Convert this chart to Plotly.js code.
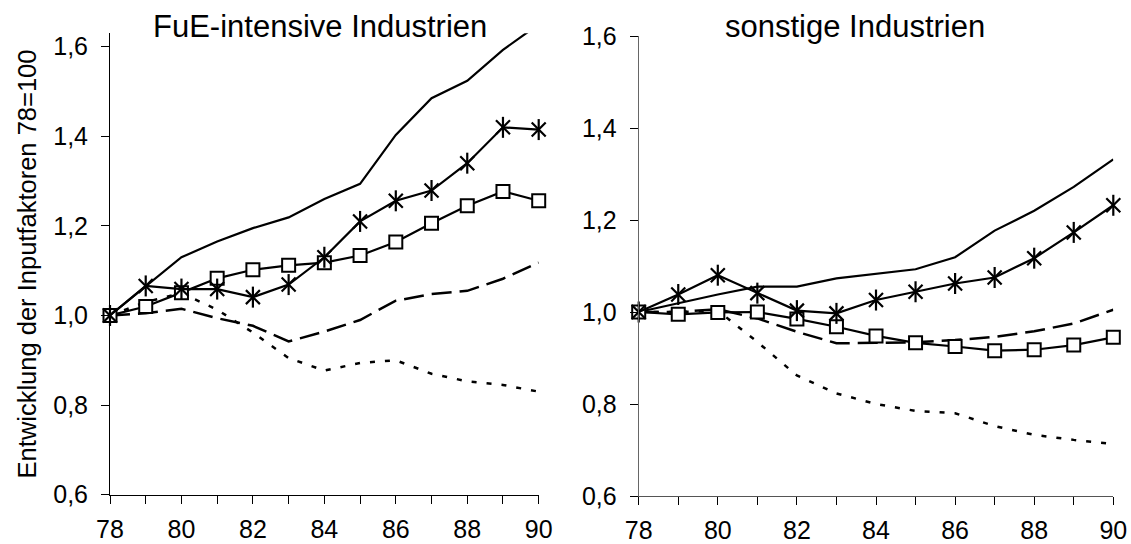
<!DOCTYPE html>
<html><head><meta charset="utf-8">
<script src="https://cdn.plot.ly/plotly-3.0.1.min.js"></script>
<style>html,body{margin:0;padding:0;background:#fff}</style>
</head><body><div id="chart" style="width:1131px;height:544px"></div>
<script>
// ---- data ----
const years = [78, 79, 80, 81, 82, 83, 84, 85, 86, 87, 88, 89, 90];
const xTickText = ['78', '', '80', '', '82', '', '84', '', '86', '', '88', '', '90'];
const yTickVals = [0.6, 0.8, 1.0, 1.2, 1.4, 1.6];

const panelTitles = ['FuE-intensive Industrien', 'sonstige Industrien'];
const yAxisTitle = 'Entwicklung der Inputfaktoren 78=100';

// FuE-intensive Industrien
const leftSolid  = [1.000, 1.066, 1.130, 1.165, 1.195, 1.219, 1.260, 1.294, 1.403, 1.485, 1.524, 1.593, 1.650];
const leftStar   = [1.000, 1.066, 1.059, 1.059, 1.041, 1.069, 1.130, 1.210, 1.256, 1.279, 1.340, 1.420, 1.415];
const leftSquare = [1.000, 1.020, 1.051, 1.083, 1.102, 1.112, 1.118, 1.134, 1.164, 1.206, 1.245, 1.277, 1.256];
const leftDashed = [1.000, 1.005, 1.015, 0.994, 0.977, 0.942, 0.964, 0.990, 1.033, 1.048, 1.055, 1.082, 1.118];
const leftDotted = [1.000, 1.030, 1.050, 1.013, 0.962, 0.905, 0.877, 0.894, 0.900, 0.870, 0.853, 0.845, 0.830];

// sonstige Industrien
const rightSolid  = [1.000, 1.019, 1.038, 1.055, 1.055, 1.073, 1.083, 1.093, 1.119, 1.177, 1.220, 1.272, 1.332];
const rightStar   = [1.000, 1.038, 1.080, 1.041, 1.003, 0.997, 1.026, 1.044, 1.062, 1.075, 1.117, 1.173, 1.232];
const rightSquare = [1.000, 0.995, 0.999, 1.000, 0.985, 0.968, 0.948, 0.933, 0.925, 0.916, 0.918, 0.928, 0.945];
const rightDashed = [1.000, 1.000, 1.006, 0.986, 0.957, 0.932, 0.933, 0.934, 0.939, 0.946, 0.958, 0.975, 1.005];
const rightDotted = [1.000, 1.000, 1.003, 0.935, 0.862, 0.823, 0.800, 0.785, 0.780, 0.752, 0.733, 0.722, 0.713];

// ---- build ----
const W = 1131, H = 544;
function makeTraces(xa, ya, solid, star, square, dashed, dotted) {
  const base = {x: years, xaxis: xa, yaxis: ya, showlegend: false, hoverinfo: 'skip'};
  return [
    Object.assign({}, base, {y: dotted, mode: 'lines', line: {color: '#000', width: 2.5, dash: '5px,10px'}}),
    Object.assign({}, base, {y: dashed, mode: 'lines', line: {color: '#000', width: 2.5, dash: '20px,8px'}}),
    Object.assign({}, base, {y: solid, mode: 'lines', line: {color: '#000', width: 2.2}}),
    Object.assign({}, base, {y: square, mode: 'lines+markers', cliponaxis: false,
      line: {color: '#000', width: 2.2},
      marker: {symbol: 'square', size: 13, color: '#fff', line: {color: '#000', width: 2}}}),
    Object.assign({}, base, {y: star, mode: 'lines+markers', cliponaxis: false,
      line: {color: '#000', width: 2.2},
      marker: {symbol: 'x-thin-open', size: 14, color: '#000', line: {color: '#000', width: 2.2}}}),
    Object.assign({}, base, {y: star, mode: 'markers', cliponaxis: false,
      marker: {symbol: 'line-ns-open', size: 15, color: '#000', line: {color: '#000', width: 2.2}}})
  ];
}

const data = [].concat(
  makeTraces('x', 'y', leftSolid, leftStar, leftSquare, leftDashed, leftDotted),
  makeTraces('x2', 'y2', rightSolid, rightStar, rightSquare, rightDashed, rightDotted)
);

const fontFam = 'Liberation Sans, Arial, sans-serif';
function xAx(dom, anchor, col) {
  return {domain: dom, anchor: anchor, range: [78, 90], tickvals: years, ticktext: xTickText,
    ticks: 'outside', ticklen: 8, tickwidth: 1, tickcolor: '#000', showline: true, linecolor: col, linewidth: 1,
    showgrid: false, zeroline: false, tickfont: {size: 25, color: '#000'}, ticklabelstandoff: 4, fixedrange: true};
}
function yAx(dom, anchor, top, col) {
  return {domain: dom, anchor: anchor, range: [0.6, top], tickvals: yTickVals, tickformat: '.1f',
    ticks: 'outside', ticklen: 8, tickwidth: 1, tickcolor: '#000', showline: true, linecolor: col, linewidth: 1,
    showgrid: false, zeroline: false, tickfont: {size: 25, color: '#000'}, ticklabelstandoff: 8, fixedrange: true};
}
function innerX(over, anchor) {
  return {overlaying: over, anchor: anchor, range: [78, 90], tickvals: years, ticks: 'inside', ticklen: 8,
    tickwidth: 1, tickcolor: '#000', showticklabels: false, showline: false, showgrid: false, zeroline: false, fixedrange: true};
}
function innerY(over, anchor, top) {
  return {overlaying: over, anchor: anchor, range: [0.6, top], tickvals: yTickVals, ticks: 'inside', ticklen: 6,
    tickwidth: 1, tickcolor: '#000', showticklabels: false, showline: false, showgrid: false, zeroline: false, fixedrange: true};
}

const leftX = [110 / W, 538.7 / W], rightX = [638.7 / W, 1113.3 / W];
const leftTop = 1.63;
const leftY = [1 - 494.7 / H, 1 - (494.7 - (leftTop - 0.6) * 448) / H];
const rightY = [1 - 496 / H, 1 - 36 / H];

const yLeft = yAx(leftY, 'x', leftTop, '#000');
yLeft.title = {text: yAxisTitle, font: {size: 25.5, color: '#000'}, standoff: 9};

const layout = {
  width: W, height: H, margin: {l: 0, r: 0, t: 0, b: 0},
  paper_bgcolor: '#fff', plot_bgcolor: 'rgba(0,0,0,0)',
  separators: ',.',
  font: {family: fontFam, color: '#000'},
  showlegend: false,
  xaxis: xAx(leftX, 'y', '#000'),
  yaxis: yLeft,
  xaxis2: xAx(rightX, 'y2', '#555'),
  yaxis2: yAx(rightY, 'x2', 1.6, '#666'),
  xaxis3: innerX('x', 'y'),
  yaxis3: innerY('y', 'x', leftTop),
  xaxis4: innerX('x2', 'y2'),
  yaxis4: innerY('y2', 'x2', 1.6),
  annotations: [
    {text: panelTitles[0], xref: 'paper', yref: 'paper', x: 320 / W, y: 1 - 26 / H,
     xanchor: 'center', yanchor: 'middle', showarrow: false, font: {size: 31, color: '#000'}},
    {text: panelTitles[1], xref: 'paper', yref: 'paper', x: 855 / W, y: 1 - 26 / H,
     xanchor: 'center', yanchor: 'middle', showarrow: false, font: {size: 31, color: '#000'}}
  ]
};

Plotly.newPlot('chart', data, layout, {staticPlot: true, displayModeBar: false});
</script></body></html>
